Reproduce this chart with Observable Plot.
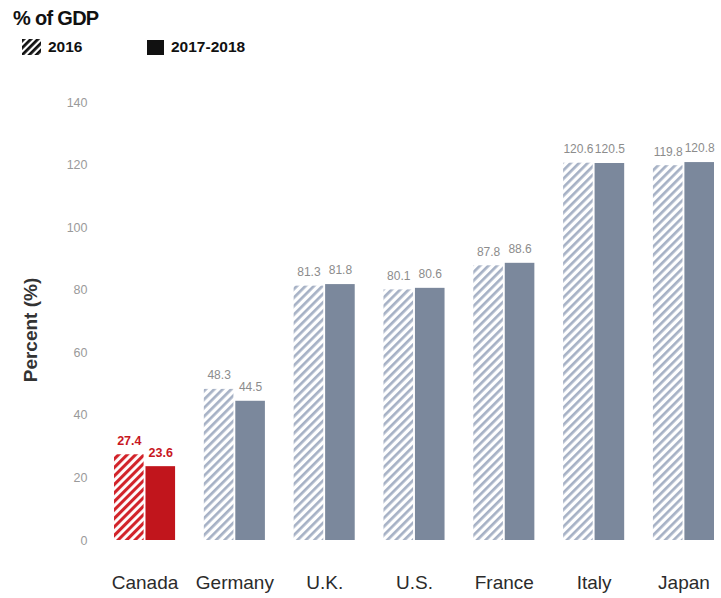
<!DOCTYPE html>
<html><head><meta charset="utf-8">
<script src="https://cdn.jsdelivr.net/npm/d3@7"></script>
<script src="https://cdn.jsdelivr.net/npm/@observablehq/plot@0.6"></script>
<style>
body{margin:0;background:#fff;font-family:"Liberation Sans",Arial,sans-serif;}
#wrap{width:721px;height:598px;position:relative;overflow:hidden;background:#fff}
#title{position:absolute;left:13px;top:6px;font-size:20px;line-height:24px;font-weight:bold;color:#111;letter-spacing:-0.7px}
.leg{position:absolute;top:38px;height:18px;font-size:15.5px;line-height:18px;font-weight:bold;color:#111;display:flex;align-items:center;gap:7px}
.sw{display:inline-block}
#ylab{position:absolute;z-index:2;left:31px;top:330px;transform:translate(-50%,-50%) rotate(-90deg);white-space:nowrap;font-size:19px;font-weight:bold;color:#333}
#chart{position:absolute;z-index:1;left:0;top:62px}
</style></head>
<body>
<svg width="0" height="0" style="position:absolute">
  <defs>
    <pattern id="hatchGray" patternUnits="userSpaceOnUse" width="6" height="6" patternTransform="rotate(45)">
      <rect width="6" height="6" fill="#ffffff"/><rect width="2.7" height="6" fill="#a6b1c5"/>
    </pattern>
    <pattern id="hatchRed" patternUnits="userSpaceOnUse" width="6" height="6" patternTransform="rotate(45)">
      <rect width="6" height="6" fill="#ffffff"/><rect width="3.1" height="6" fill="#d2232a"/>
    </pattern>
    <pattern id="hatchBlack" patternUnits="userSpaceOnUse" width="5" height="5" patternTransform="rotate(45)">
      <rect width="5" height="5" fill="#ffffff"/><rect width="2.8" height="5" fill="#111"/>
    </pattern>
  </defs>
</svg>
<div id="wrap">
  <div id="title">% of GDP</div>
  <div class="leg" style="left:22px"><svg class="sw" width="19" height="16"><rect width="19" height="16" fill="url(#hatchBlack)"/></svg><span id="l1"></span></div>
  <div class="leg" style="left:147px"><span class="sw" style="width:17px;height:15px;background:#111"></span><span id="l2"></span></div>
  <div id="chart"></div>
  <div id="ylab"></div>
</div>
<script>
const countries = ["Canada","Germany","U.K.","U.S.","France","Italy","Japan"];
const periods = ["2016","2017-2018"];
const values2016 = [27.4,48.3,81.3,80.1,87.8,120.6,119.8];
const values2017 = [23.6,44.5,81.8,80.6,88.6,120.5,120.8];
const yTicks = [0,20,40,60,80,100,120,140];
const yLabel = "Percent (%)";
const highlight = "Canada";

document.getElementById("l1").textContent = periods[0];
document.getElementById("l2").textContent = periods[1];
document.getElementById("ylab").textContent = yLabel;

const data = countries.flatMap((c,i)=>[
  {country:c, period:periods[0], value:values2016[i]},
  {country:c, period:periods[1], value:values2017[i]}
]);
const fillOf = d => d.country===highlight
  ? (d.period===periods[0] ? "url(#hatchRed)" : "#c1151c")
  : (d.period===periods[0] ? "url(#hatchGray)" : "#7b889c");

const chart = Plot.plot({
  width: 721,
  height: 536,
  marginLeft: 114,
  marginRight: 7,
  marginTop: 40,
  marginBottom: 58,
  style: {fontFamily: "'Liberation Sans', Arial, sans-serif", background: "#fff"},
  fx: {domain: countries, paddingInner: 0.32, paddingOuter: 0, round: false},
  x: {domain: periods, axis: null, paddingInner: 0.06, paddingOuter: 0, round: false},
  y: {domain: [0, 140]},
  color: {type: "identity"},
  marks: [
    Plot.axisY({ticks: yTicks, tickSize: 0, tickPadding: 27, fill: "#9a9a9a", fontSize: 12.5, label: null}),
    Plot.axisFx({anchor: "bottom", tickSize: 0, tickPadding: 35, fontSize: 19, fill: "#2b2b2b", label: null}),
    Plot.barY(data, {fx: "country", x: "period", y: "value", fill: fillOf}),
    Plot.text(data.filter(d=>d.country!==highlight), {fx: "country", x: "period", y: "value", text: d=>d.value.toFixed(1), dy: -14, fill: "#8c8c8c", fontSize: 12}),
    Plot.text(data.filter(d=>d.country===highlight), {fx: "country", x: "period", y: "value", text: d=>d.value.toFixed(1), dy: -14, fill: "#c8171f", fontSize: 12.5, fontWeight: "bold"})
  ]
});
document.getElementById("chart").appendChild(chart);
</script>
</body></html>
